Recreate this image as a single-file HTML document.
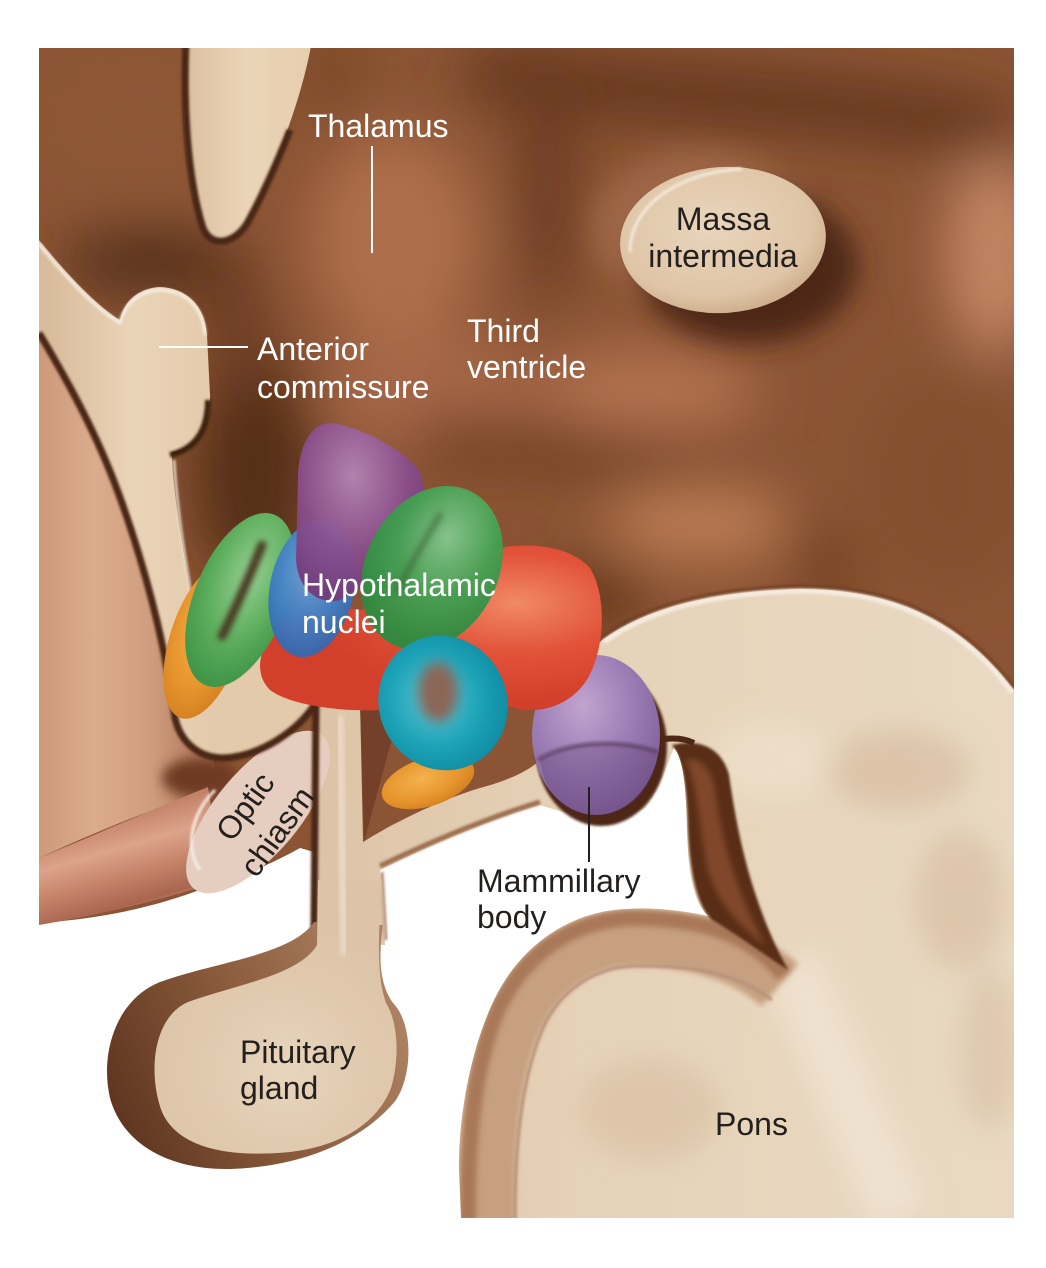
<!DOCTYPE html>
<html><head><meta charset="utf-8"><style>
html,body{margin:0;padding:0;background:#fff;}
svg{display:block;}
text{font-family:"Liberation Sans",Arial,sans-serif;font-size:32px;}
</style></head><body>
<svg width="1046" height="1268" viewBox="0 0 1046 1268" xmlns="http://www.w3.org/2000/svg">
<defs>
 <clipPath id="clip"><rect x="39" y="48" width="975" height="1170"/></clipPath>
 <filter id="f30" x="-50%" y="-50%" width="200%" height="200%"><feGaussianBlur stdDeviation="28"/></filter>
 <filter id="f15" x="-50%" y="-50%" width="200%" height="200%"><feGaussianBlur stdDeviation="14"/></filter>
 <filter id="f6" x="-50%" y="-50%" width="200%" height="200%"><feGaussianBlur stdDeviation="6"/></filter>
 <filter id="f3" x="-50%" y="-50%" width="200%" height="200%"><feGaussianBlur stdDeviation="3"/></filter>
 <filter id="f1" x="-50%" y="-50%" width="200%" height="200%"><feGaussianBlur stdDeviation="1.2"/></filter>
 <linearGradient id="ponsG" x1="300" y1="0" x2="1014" y2="0" gradientUnits="userSpaceOnUse">
  <stop offset="0" stop-color="#dcc3a6"/><stop offset=".4" stop-color="#e6d2b8"/><stop offset="1" stop-color="#e9d9c3"/>
 </linearGradient>
 <linearGradient id="peachG" x1="39" y1="0" x2="200" y2="0" gradientUnits="userSpaceOnUse">
  <stop offset="0" stop-color="#cd9a7a"/><stop offset=".35" stop-color="#dbac8c"/><stop offset=".7" stop-color="#cf9d7e"/><stop offset="1" stop-color="#b27a5d"/>
 </linearGradient>
 <linearGradient id="nerveG" x1="110" y1="812" x2="140" y2="915" gradientUnits="userSpaceOnUse">
  <stop offset="0" stop-color="#bd7a60"/><stop offset=".35" stop-color="#dca48b"/><stop offset=".6" stop-color="#c6856b"/><stop offset=".88" stop-color="#a9654f"/><stop offset="1" stop-color="#d2a393"/>
 </linearGradient>
 <linearGradient id="bandG" x1="50" y1="0" x2="215" y2="0" gradientUnits="userSpaceOnUse">
  <stop offset="0" stop-color="#d9bc9c"/><stop offset=".5" stop-color="#ead4b8"/><stop offset="1" stop-color="#e3caab"/>
 </linearGradient>
 <linearGradient id="pitRim" x1="110" y1="1110" x2="400" y2="980" gradientUnits="userSpaceOnUse">
  <stop offset="0" stop-color="#5e3520"/><stop offset=".45" stop-color="#875839"/><stop offset="1" stop-color="#b08466"/>
 </linearGradient>
 <radialGradient id="pitIn" cx="285" cy="1070" r="150" gradientUnits="userSpaceOnUse">
  <stop offset="0" stop-color="#e7d5bd"/><stop offset=".6" stop-color="#e0c9ad"/><stop offset="1" stop-color="#ddc4a8"/>
 </radialGradient>
 <radialGradient id="massaG" cx="45%" cy="40%" r="60%">
  <stop offset="0" stop-color="#e9d5bc"/><stop offset=".8" stop-color="#dfc5a6"/><stop offset="1" stop-color="#cfb08f"/>
 </radialGradient>
 <linearGradient id="ovalG" x1="0" y1="0" x2="1" y2="0">
  <stop offset="0" stop-color="#dcc0a0"/><stop offset=".5" stop-color="#ebd5b8"/><stop offset="1" stop-color="#e6cdae"/>
 </linearGradient>
 <radialGradient id="mamG" cx="40%" cy="32%" r="70%">
  <stop offset="0" stop-color="#c2a4cf"/><stop offset=".55" stop-color="#9d7db5"/><stop offset="1" stop-color="#80609a"/>
 </radialGradient>
 <radialGradient id="gPur" cx="45%" cy="30%" r="70%">
  <stop offset="0" stop-color="#b486b5"/><stop offset=".6" stop-color="#8a4d8d"/><stop offset="1" stop-color="#733a79"/>
 </radialGradient>
 <radialGradient id="gGrL" cx="50%" cy="35%" r="65%">
  <stop offset="0" stop-color="#95d092"/><stop offset=".6" stop-color="#5cad5c"/><stop offset="1" stop-color="#3f9446"/>
 </radialGradient>
 <radialGradient id="gGrR" cx="50%" cy="30%" r="65%">
  <stop offset="0" stop-color="#86c68e"/><stop offset=".55" stop-color="#44a052"/><stop offset="1" stop-color="#2f8a40"/>
 </radialGradient>
 <radialGradient id="gBlu" cx="45%" cy="35%" r="65%">
  <stop offset="0" stop-color="#76a6dc"/><stop offset=".6" stop-color="#4280c6"/><stop offset="1" stop-color="#3468ad"/>
 </radialGradient>
 <radialGradient id="gRed" cx="75%" cy="35%" r="60%">
  <stop offset="0" stop-color="#f08a66"/><stop offset=".5" stop-color="#e2533a"/><stop offset="1" stop-color="#d23f2a"/>
 </radialGradient>
 <radialGradient id="gTeal" cx="45%" cy="45%" r="60%">
  <stop offset="0" stop-color="#5ac6d6"/><stop offset=".6" stop-color="#1ca2b6"/><stop offset="1" stop-color="#0f8aa0"/>
 </radialGradient>
 <radialGradient id="gOr" cx="45%" cy="40%" r="65%">
  <stop offset="0" stop-color="#f4b24e"/><stop offset=".6" stop-color="#e8962e"/><stop offset="1" stop-color="#d17f20"/>
 </radialGradient>
</defs>

<g clip-path="url(#clip)">
 <rect x="39" y="48" width="975" height="1170" fill="#8b5434"/>
 <g filter="url(#f30)">
  <ellipse cx="140" cy="120" rx="110" ry="80" fill="#8e5636"/>
  <ellipse cx="150" cy="262" rx="90" ry="35" fill="#56301a"/>
  <ellipse cx="255" cy="470" rx="60" ry="120" fill="#552d17"/>
  <ellipse cx="235" cy="330" rx="30" ry="80" fill="#6a3a20"/>
  <ellipse cx="395" cy="240" rx="85" ry="110" fill="#ad6e4b"/>
  <ellipse cx="430" cy="390" rx="110" ry="60" fill="#a46646"/>
  <path d="M470,70 C640,100 850,95 1014,135" stroke="#62341b" stroke-width="55" fill="none"/>
  <ellipse cx="548" cy="170" rx="28" ry="140" fill="#6b3a20"/>
  <ellipse cx="650" cy="390" rx="110" ry="45" fill="#b07150"/>
  <ellipse cx="950" cy="480" rx="85" ry="110" fill="#84502f"/>
  <path d="M420,442 C540,440 650,455 740,490 C790,515 820,555 845,595" stroke="#6e3b1f" stroke-width="42" fill="none"/>
  <ellipse cx="700" cy="522" rx="95" ry="42" fill="#b87953"/>
  <ellipse cx="995" cy="255" rx="50" ry="100" fill="#c28665"/>
  <ellipse cx="590" cy="595" rx="60" ry="30" fill="#633419"/>
  <ellipse cx="330" cy="70" rx="30" ry="50" fill="#7d4828"/>
 </g>
 <g filter="url(#f15)">
  <ellipse cx="700" cy="228" rx="108" ry="78" fill="#9e6646"/>
  <ellipse cx="748" cy="266" rx="110" ry="78" fill="#4e2813"/>
 </g>

 <path d="M316,698 L360,700 L363,842 C395,822 440,800 480,788 C510,780 530,770 540,760 C555,720 572,668 602,640 C650,605 720,591 800,589 C880,589 955,612 1014,690 L1014,1218 L300,1218 L300,940 L314,935 Z" fill="url(#ponsG)"/>
 <path d="M360,702 L402,702 L364,842 Z" fill="#74402a"/>
 <g filter="url(#f15)" opacity="0.55">
  <ellipse cx="900" cy="770" rx="70" ry="40" fill="#d2b596"/>
  <ellipse cx="960" cy="900" rx="45" ry="70" fill="#d4b89a"/>
  <ellipse cx="650" cy="1110" rx="70" ry="50" fill="#d6bc9e"/>
  <ellipse cx="770" cy="760" rx="60" ry="40" fill="#f0e4d2"/>
  <path d="M790,960 L900,1218" stroke="#f4eadc" stroke-width="60"/>
  <ellipse cx="990" cy="1050" rx="30" ry="80" fill="#d6bca0"/>
 </g>
 <path d="M602,637 C650,602 720,588 800,586 C880,586 955,609 1014,687" stroke="#6e3c22" stroke-width="2.5" fill="none" filter="url(#f1)"/>
 <path d="M604,642 C652,607 720,593 800,591 C880,591 953,614 1012,692" stroke="#f5ece0" stroke-width="5" fill="none" filter="url(#f1)"/>

 <path d="M780,985 C742,952 690,938 630,938 C575,940 535,975 515,1020 C495,1065 486,1120 487,1225" stroke="#c6a080" stroke-width="56" fill="none" filter="url(#f3)"/>
 <path d="M784,975 C750,933 700,918 632,918 C570,920 525,955 500,1005 C478,1052 467,1120 468,1225" stroke="#a87858" stroke-width="16" fill="none" filter="url(#f3)"/>
 <path d="M772,1000 C735,972 690,965 632,966 C590,968 555,995 540,1035 C525,1075 514,1130 515,1225" stroke="#b8927a" stroke-width="3" fill="none" filter="url(#f1)"/>

 <path d="M672,745 C700,738 722,748 729,775 C737,830 750,900 788,970 C760,952 735,933 712,920 C696,905 690,870 688,830 C687,790 684,762 672,745 Z" fill="#5a2e18" filter="url(#f1)"/>
 <path d="M686,760 C700,757 711,768 715,790 C721,835 733,885 765,945 C742,928 718,905 708,870 C700,835 699,790 686,760 Z" fill="#80462b" filter="url(#f3)"/>
 <path d="M648,743 C665,737 682,737 694,743" stroke="#4e2816" stroke-width="6" fill="none"/>

 <path d="M39,923 C110,918 160,905 205,888 C240,878 275,862 300,848 L314,852 L314,940 L385,945 L380,870 C420,850 480,823 540,805 C570,815 610,826 645,808 C660,790 668,762 674,748 C684,760 686,790 687,830 C688,870 693,902 708,916 C680,910 650,907 625,909 C565,912 518,950 494,1000 C470,1050 458,1120 459,1170 L461,1218 L39,1218 Z" fill="#ffffff"/>
 <path d="M380,866 C420,847 480,820 540,802" stroke="#9c6e50" stroke-width="5" fill="none" filter="url(#f1)"/>

 <path d="M39,320 C80,380 130,470 160,560 C180,640 190,700 215,765 L210,792 C160,805 100,830 39,858 Z" fill="url(#peachG)"/>
 <ellipse cx="200" cy="778" rx="38" ry="20" fill="#6e3a24" filter="url(#f6)"/>
 <path d="M39,858 C100,833 160,806 208,787 L222,880 C170,898 100,915 39,925 Z" fill="url(#nerveG)"/>
 <ellipse cx="258" cy="812" rx="100" ry="42" transform="rotate(-50 258 812)" fill="#e5cdbf"/>
 <path d="M200,870 C185,850 190,815 215,790" stroke="#f7eee8" stroke-width="3" fill="none" filter="url(#f1)"/>

 <path d="M39,240 C65,272 95,305 120,320 C124,300 140,288 160,287 C186,288 205,305 207,335 L210,395 C210,428 198,447 172,452 C172,485 180,530 188,580 C195,630 198,665 196,700 L255,640 L318,690 L316,702 C300,730 260,757 222,758 C196,757 180,740 175,718 C165,640 142,557 118,492 C96,432 66,378 39,333 Z" fill="url(#bandG)"/>
 <path d="M39,244 C65,276 95,308 120,323 C125,303 140,291 160,290 C186,291 203,307 205,335" stroke="#f6eee4" stroke-width="3" fill="none" filter="url(#f1)"/>
 <path d="M208,400 C208,430 196,449 170,455" stroke="#3e2010" stroke-width="6" fill="none" filter="url(#f1)"/>
 <path d="M174,460 C176,495 181,535 189,582 C195,628 198,662 198,700" stroke="#f0e6da" stroke-width="2.5" fill="none" filter="url(#f1)"/>
 <path d="M39,333 C66,378 96,432 118,492 C142,557 165,640 175,718 C180,740 196,757 222,758 C260,757 300,730 316,702 L314,930" stroke="#4a2614" stroke-width="7" fill="none" filter="url(#f1)"/>
 <path d="M382,872 L386,940" stroke="#b08466" stroke-width="3" fill="none" filter="url(#f1)"/>

 <path d="M314,922 C292,955 215,962 160,982 C115,1000 100,1055 110,1098 C123,1145 170,1170 230,1169 C300,1167 362,1142 396,1100 C414,1072 412,1022 393,1003 C380,985 378,960 383,925 Z" fill="url(#pitRim)"/>
 <path d="M318,880 L381,880 C379,935 376,975 386,1003 C398,1022 400,1058 391,1088 C378,1122 342,1146 290,1152 C228,1158 178,1148 162,1112 C148,1075 152,1018 188,1002 C235,985 300,975 317,945 Z" fill="url(#pitIn)"/>
 <path d="M340,715 L344,955" stroke="#efe3d3" stroke-width="5" fill="none" filter="url(#f3)"/>

 <ellipse cx="601" cy="746" rx="66" ry="80" fill="#4e2816" filter="url(#f1)"/>
 <ellipse cx="596" cy="735" rx="64" ry="80" fill="url(#mamG)"/>
 <path d="M540,760 C565,742 620,738 658,752 C655,790 630,815 596,815 C565,815 545,795 540,760 Z" fill="#5e3a6a" opacity=".28"/>
 <path d="M538,760 C565,742 620,738 658,752" stroke="#5a3a5e" stroke-width="5" fill="none" opacity=".6" filter="url(#f1)"/>

 <ellipse cx="206" cy="640" rx="36" ry="82" transform="rotate(18 206 640)" fill="url(#gOr)"/>
 <path d="M264,648 C275,615 320,602 360,610 C400,600 440,575 470,558 C505,540 565,540 590,568 C608,598 604,650 588,678 C572,705 540,715 515,708 C495,702 470,698 445,695 C420,700 400,708 380,710 C340,712 290,705 270,690 C258,678 258,662 264,648 Z" fill="url(#gRed)"/>
 <ellipse cx="428" cy="782" rx="48" ry="24" transform="rotate(-18 428 782)" fill="url(#gOr)"/>
 <ellipse cx="240" cy="600" rx="46" ry="92" transform="rotate(22 240 600)" fill="url(#gGrL)"/>
 <path d="M262,545 C250,575 236,608 222,636" stroke="#4a3a20" stroke-width="9" stroke-linecap="round" fill="none" filter="url(#f3)"/>
 <ellipse cx="312" cy="588" rx="42" ry="70" transform="rotate(12 312 588)" fill="url(#gBlu)" opacity=".95"/>
 <path d="M330,423 C355,425 395,445 415,465 C428,480 425,510 418,535 C405,560 375,580 340,600 C318,605 298,590 296,560 L298,480 C298,445 312,423 330,423 Z" fill="url(#gPur)" opacity=".93"/>
 <ellipse cx="432" cy="568" rx="66" ry="86" transform="rotate(28 432 568)" fill="url(#gGrR)" opacity=".96"/>
 <path d="M440,515 C425,540 410,565 398,590" stroke="#3b5a30" stroke-width="7" stroke-linecap="round" fill="none" opacity=".5" filter="url(#f3)"/>
 <ellipse cx="443" cy="703" rx="64" ry="68" transform="rotate(-25 443 703)" fill="url(#gTeal)"/>
 <ellipse cx="438" cy="692" rx="20" ry="30" fill="#8a6656" filter="url(#f6)"/>

 <ellipse cx="723" cy="240" rx="103" ry="73" transform="rotate(-4 723 240)" fill="url(#massaG)"/>
 <path d="M630,252 C630,205 680,172 742,169" stroke="#f7efe6" stroke-width="3" fill="none" opacity=".85" filter="url(#f1)"/>

 <path d="M186,40 L312,40 C303,95 278,160 250,218 C238,243 212,250 203,228 C190,195 183,140 184,95 Z" fill="url(#ovalG)"/>
 <path d="M186,40 C183,110 188,180 203,228 C212,250 238,243 250,218 C265,190 278,160 290,130" stroke="#4a2614" stroke-width="7" fill="none" filter="url(#f1)"/>
</g>

<line x1="372" y1="146" x2="372" y2="253" stroke="#ffffff" stroke-width="2"/>
<line x1="159" y1="347" x2="248" y2="347" stroke="#ffffff" stroke-width="2"/>
<line x1="589" y1="787" x2="589" y2="862" stroke="#231f1c" stroke-width="2"/>

<text x="308" y="137" fill="#ffffff">Thalamus</text>
<text x="257" y="360" fill="#ffffff">Anterior</text>
<text x="257" y="398" fill="#ffffff">commissure</text>
<text x="467" y="342" fill="#ffffff">Third</text>
<text x="467" y="378" fill="#ffffff">ventricle</text>
<text x="723" y="230" fill="#231f1c" text-anchor="middle">Massa</text>
<text x="723" y="267" fill="#231f1c" text-anchor="middle">intermedia</text>
<text x="302" y="596" fill="#ffffff">Hypothalamic</text>
<text x="302" y="633" fill="#ffffff">nuclei</text>
<text transform="translate(254 813) rotate(-54)" fill="#231f1c" text-anchor="middle">Optic</text>
<text transform="translate(286 838) rotate(-54)" fill="#231f1c" text-anchor="middle">chiasm</text>
<text x="477" y="892" fill="#231f1c">Mammillary</text>
<text x="477" y="928" fill="#231f1c">body</text>
<text x="240" y="1063" fill="#231f1c">Pituitary</text>
<text x="240" y="1099" fill="#231f1c">gland</text>
<text x="715" y="1135" fill="#231f1c">Pons</text>
</svg>
</body></html>
